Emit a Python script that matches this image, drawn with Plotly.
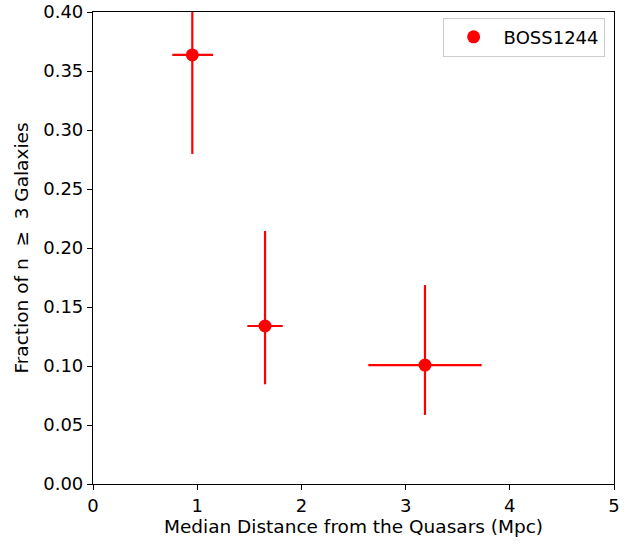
import plotly.graph_objects as go

# Data
distance = [0.953, 1.651, 3.186]
fraction = [0.3636, 0.1339, 0.1008]
x_err_plus = [0.199, 0.170, 0.544]
x_err_minus = [0.192, 0.170, 0.544]
y_err_plus = [0.09, 0.0805, 0.0678]
y_err_minus = [0.0839, 0.0494, 0.0423]

x_ticks = [0, 1, 2, 3, 4, 5]
y_ticks = [0.0, 0.05, 0.10, 0.15, 0.20, 0.25, 0.30, 0.35, 0.40]

font = "DejaVu Sans"
fs = 18

fig = go.Figure()
fig.add_trace(go.Scatter(
    x=distance, y=fraction, mode="markers", name="BOSS1244",
    marker=dict(color="#ff0000", size=13),
    error_x=dict(type="data", array=x_err_plus, arrayminus=x_err_minus,
                 color="#ff0000", thickness=2.2, width=0),
    error_y=dict(type="data", array=y_err_plus, arrayminus=y_err_minus,
                 color="#ff0000", thickness=2.2, width=0),
    cliponaxis=True,
))

axis_common = dict(
    showgrid=False, zeroline=False, showline=True, linecolor="black",
    linewidth=1.2, mirror=True, ticks="outside", ticklen=5,
    tickwidth=1.2, tickcolor="black",
    tickfont=dict(family=font, size=fs, color="black"),
)

fig.update_layout(
    width=628, height=544,
    margin=dict(l=93, r=14, t=12, b=60),
    plot_bgcolor="white", paper_bgcolor="white",
    font=dict(family=font, size=fs, color="black"),
    xaxis=dict(range=[0, 5], tickvals=x_ticks,
               ticktext=[str(v) for v in x_ticks],
               automargin="bottom",
               title=dict(text="Median Distance from the Quasars (Mpc)",
                          font=dict(family=font, size=18.5), standoff=3),
               **axis_common),
    yaxis=dict(range=[0, 0.40], tickvals=y_ticks,
               ticktext=[f"{v:.2f}" for v in y_ticks],
               automargin="left",
               title=dict(text="Fraction of n  ≥  3 Galaxies",
                          font=dict(family=font, size=18.5), standoff=9),
               **axis_common),
    showlegend=True,
    legend=dict(x=0.982, y=0.988, xanchor="right", yanchor="top",
                bgcolor="white", bordercolor="#cccccc", borderwidth=1,
                itemwidth=50,
                font=dict(family=font, size=fs)),
)

fig.write_html("out.html")
